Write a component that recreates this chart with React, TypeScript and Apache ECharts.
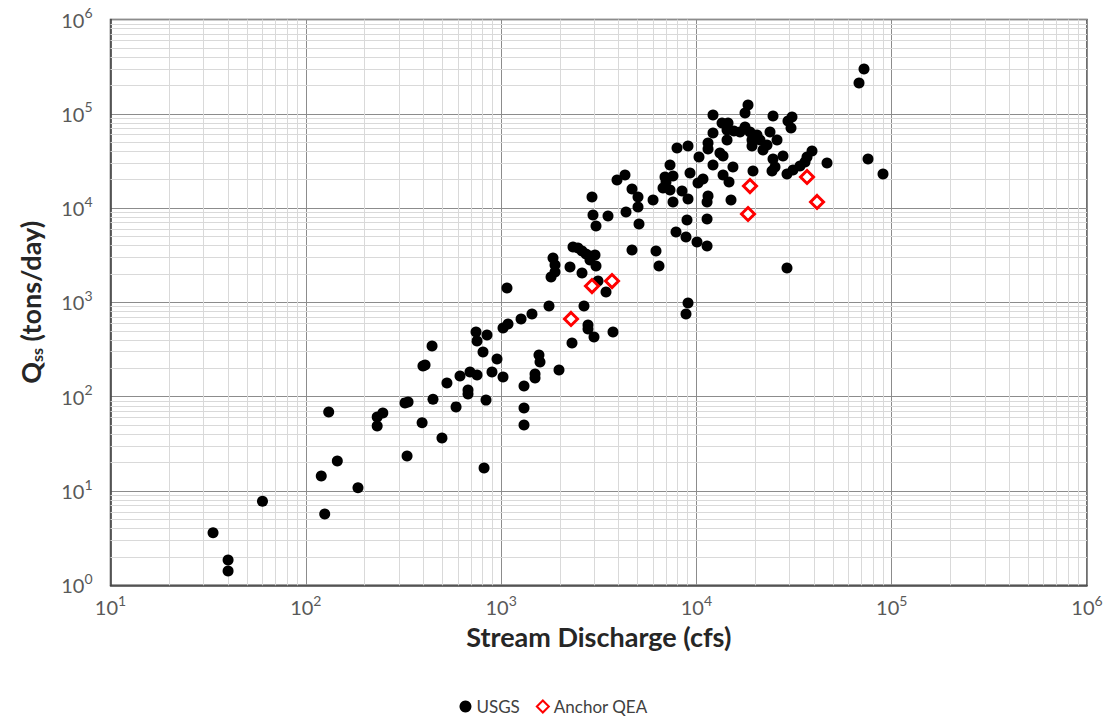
import React, { useEffect, useRef } from "react";
import * as echarts from "echarts";

// USGS samples: stream discharge (cfs) and suspended sediment load (tons/day)
const usgsDischarge = [
  33.5, 40, 40, 60, 120, 125, 145, 131, 185, 232, 248, 232, 322, 334, 394, 448, 498, 330, 398, 408,
  443, 528, 588, 616, 693, 753, 677, 677, 744, 753, 847, 808, 837, 818, 898, 953, 1023, 1023, 1085, 1072,
  1265, 1439, 1310, 1310, 1310, 1492, 1492, 1563, 1582, 1979, 1759, 2307, 2657, 2786, 2786, 2990, 3741, 3445, 3135, 2596,
  2253, 3062, 1844, 1888, 1888, 1802, 2334, 2476, 2596, 2721, 2852, 3026, 2852, 4680, 6211, 6434, 2920, 2955, 3062, 3527,
  3922, 4309, 4680, 5023, 5023, 4361, 5082, 5998, 6745, 7326, 8440, 7590, 9060, 6905, 7590, 9274, 7326, 7958, 9060, 10310,
  10190, 10810, 11470, 11340, 8950, 11340, 7864, 8846, 10070, 11340, 9060, 8846, 12160, 12160, 11470, 11470, 13200, 13690, 12160, 13690,
  14690, 15040, 15390, 13530, 14520, 14350, 15570, 16720, 14350, 18380, 17740, 18810, 20430, 19260, 21170, 23820, 25870, 22990, 19260, 21930,
  24680, 30870, 29440, 30510, 24680, 27760, 25270, 24390, 19490, 29100, 31240, 33920, 39080, 36850, 35990, 46650, 29100, 72140, 68030, 75640,
  90270, 17740, 6987,
];
const usgsLoad = [
  3.6, 1.85, 1.42, 7.8, 14.4, 5.7, 20.8, 69, 10.8, 61, 67, 49, 86, 88, 53, 94, 36.5, 23.5, 212, 217,
  345, 140, 78, 166, 183, 170, 118, 107, 486, 390, 451, 298, 92, 17.5, 183, 251, 162, 535, 590, 1420,
  667, 754, 130, 76, 50, 174, 158, 277, 233, 192, 916, 371, 916, 576, 522, 430, 486, 1289, 1686, 2050,
  2373, 2432, 2958, 2493, 2101, 1859, 3868, 3775, 3509, 3262, 3105, 3182, 2815, 3595, 3509, 2432, 13110, 8450, 6460, 8246,
  19860, 22440, 15940, 13110, 10270, 9093, 6782, 12190, 16340, 15560, 15180, 11610, 12490, 21370, 21900, 23560, 28640, 43390, 45550, 34830,
  18460, 20350, 13440, 11610, 7478, 7663, 5580, 4938, 4370, 3963, 985, 754, 97100, 62570, 49030, 42330, 38400, 35690, 28640, 22440,
  18910, 12190, 27290, 79890, 79890, 67330, 65710, 64130, 52760, 123950, 101960, 64130, 59610, 52760, 52760, 64130, 52760, 46690, 45550, 41320,
  94780, 92500, 83890, 70700, 33170, 35690, 27290, 24750, 24750, 22990, 25360, 27960, 40320, 34830, 30830, 30090, 2316, 298700, 212200, 33170,
  22990, 72440, 18910,
];

// Anchor QEA samples
const anchorDischarge = [2280, 2920, 3697, 18380, 18810, 36850, 41470];
const anchorLoad = [667, 1492, 1686, 8658, 17150, 21370, 11610];

// Axis decades and minor grid multipliers
const xDecades = [10, 100, 1000, 10000, 100000];
const yDecades = [1, 10, 100, 1000, 10000, 100000];
const minorMultipliers = [2, 3, 4, 5, 6, 7, 8, 9];

const FONT = "Lato";

export default function App() {
  const ref = useRef<HTMLDivElement>(null);

  useEffect(() => {
    if (!ref.current) return;
    const chart = echarts.init(ref.current, undefined, { renderer: "svg" });

    const usgs = usgsDischarge.map((x, i) => [x, usgsLoad[i]]);
    const anchor = anchorDischarge.map((x, i) => [x, anchorLoad[i]]);

    const minorLines: any[] = [];
    xDecades.forEach((d) =>
      minorMultipliers.forEach((m) => minorLines.push({ xAxis: d * m }))
    );
    yDecades.forEach((d) =>
      minorMultipliers.forEach((m) => minorLines.push({ yAxis: d * m }))
    );

    const powLabel = (v: number) => {
      const e = Math.round(Math.log10(v));
      return `{b|10}{s|${e}}`;
    };
    const labelRich = {
      b: { fontSize: 20, fontFamily: FONT, color: "#595959" },
      s: { fontSize: 14, fontFamily: FONT, color: "#595959", padding: [0, 0, 14, 0] },
    };

    chart.setOption({
      animation: false,
      backgroundColor: "#ffffff",
      grid: {
        left: 110.5,
        right: 20,
        top: 19.5,
        bottom: 135.7,
        show: true,
        borderColor: "#404040",
        borderWidth: 1.5,
      },
      legend: {
        data: ["USGS", "Anchor QEA"],
        bottom: 1,
        left: "center",
        itemGap: 16,
        itemWidth: 12,
        itemHeight: 12,
        textStyle: { fontFamily: FONT, fontSize: 17, color: "#404040" },
      },
      xAxis: {
        type: "log",
        logBase: 10,
        min: 10,
        max: 1000000,
        splitNumber: 5,
        axisLine: { show: true, lineStyle: { color: "#404040", width: 1.5 } },
        axisTick: { show: false },
        splitLine: { show: true, lineStyle: { color: "#8c8c8c", width: 1 } },
        axisLabel: { formatter: powLabel, rich: labelRich, margin: 8 },
        name: "Stream Discharge (cfs)",
        nameLocation: "middle",
        nameGap: 38,
        nameTextStyle: { fontFamily: FONT, fontSize: 27, fontWeight: "bold", color: "#262626" },
      },
      yAxis: {
        type: "log",
        logBase: 10,
        min: 1,
        max: 1000000,
        splitNumber: 6,
        axisLine: { show: true, lineStyle: { color: "#404040", width: 1.5 } },
        axisTick: { show: false },
        splitLine: { show: true, lineStyle: { color: "#8c8c8c", width: 1 } },
        axisLabel: { formatter: powLabel, rich: labelRich, margin: 18 },
        name: "{q|Q}{sub|ss}{q| (tons/day)}",
        nameLocation: "middle",
        nameGap: 66,
        nameRotate: 90,
        nameTextStyle: {
          rich: {
            q: { fontFamily: FONT, fontSize: 27, fontWeight: "bold", color: "#262626" },
            sub: { fontFamily: FONT, fontSize: 16, fontWeight: "bold", color: "#262626", padding: [12, 0, 0, 0] },
          },
        },
      },
      series: [
        {
          name: "USGS",
          type: "scatter",
          symbol: "circle",
          symbolSize: 11,
          itemStyle: { color: "#000000", opacity: 1 },
          data: usgs,
          z: 3,
          markLine: {
            silent: true,
            symbol: "none",
            z: 1,
            label: { show: false },
            lineStyle: { color: "#d9d9d9", width: 1, type: "solid", opacity: 1 },
            emphasis: { disabled: true },
            data: minorLines,
          },
        },
        {
          name: "Anchor QEA",
          type: "scatter",
          symbol: "diamond",
          symbolSize: 13,
          itemStyle: { color: "#ffffff", borderColor: "#ff0000", borderWidth: 3, opacity: 1 },
          data: anchor,
          z: 4,
        },
      ],
    });

    return () => chart.dispose();
  }, []);

  return (
    <div
      ref={ref}
      style={{ position: "fixed", left: 0, top: 0, width: 1107, height: 721, background: "#fff" }}
    />
  );
}
